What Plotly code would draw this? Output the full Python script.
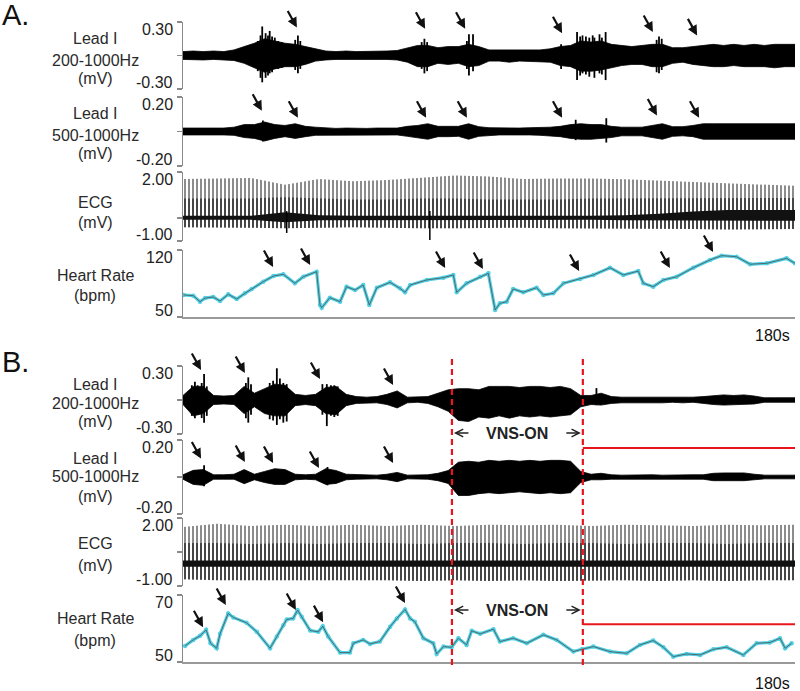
import plotly.graph_objects as go

# ======================= DATA =======================
# sampling times (s) of the envelope readings of the nerve recordings
t_env = [3 * i for i in range(61)]

# Panel A - Lead I 200-1000 Hz, burst body upper / lower envelope (mV)
a200_hi = [.035, .04, .035, .04, .035, .05, .08, .11, .15, .13,
           .11, .10, .08, .06, .04, .035, .04, .035, .035, .035,
           .04, .045, .07, .09, .09, .07, .08, .08, .10, .08,
           .05, .05, .05, .045, .05, .05, .06, .08, .09, .13,
           .12, .13, .10, .09, .08, .09, .10, .10, .07, .07,
           .08, .09, .10, .09, .10, .09, .10, .09, .10, .10, .10]
a200_lo = [-.035, -.035, -.04, -.035, -.04, -.045, -.07, -.11, -.15, -.12,
           -.10, -.10, -.08, -.05, -.04, -.035, -.035, -.035, -.03, -.035,
           -.035, -.04, -.06, -.10, -.10, -.07, -.08, -.07, -.10, -.09,
           -.05, -.05, -.06, -.05, -.05, -.055, -.06, -.09, -.10, -.14,
           -.14, -.13, -.11, -.09, -.08, -.08, -.10, -.10, -.07, -.06,
           -.08, -.09, -.10, -.10, -.09, -.10, -.10, -.10, -.11, -.10, -.10]
# isolated spikes inside the bursts (time s, top mV, bottom mV)
a200_spk_t = [22.0, 22.8, 23.3, 24.3, 25.0, 25.5, 26.2, 27.0, 28.0, 29.0, 33.0, 33.8, 34.5,
              70.2, 71.0, 71.8, 83.5, 84.1, 85.3, 111.2, 115.9, 116.8, 117.5, 118.5,
              119.5, 120.5, 121.0, 122.5, 123.2, 124.3, 139.3, 140.0, 140.8]
a200_spk_hi = [0.13, 0.18, 0.26, 0.20, 0.18, 0.22, 0.17, 0.16, 0.13, 0.12, 0.14, 0.18, 0.13,
               0.12, 0.15, 0.12, 0.13, 0.19, 0.19, 0.10, 0.21, 0.17, 0.18, 0.17,
               0.16, 0.18, 0.16, 0.19, 0.16, 0.21, 0.14, 0.17, 0.15]
a200_spk_lo = [-0.14, -0.20, -0.24, -0.20, -0.18, -0.16, -0.15, -0.12, -0.12, -0.11, -0.13, -0.16, -0.12,
               -0.12, -0.16, -0.14, -0.12, -0.18, -0.14, -0.12, -0.22, -0.18, -0.16, -0.17,
               -0.19, -0.14, -0.20, -0.16, -0.17, -0.22, -0.15, -0.16, -0.13]

# Panel A - Lead I 500-1000 Hz
a500_hi = [.02, .02, .02, .02, .02, .025, .04, .04, .055, .04,
           .035, .045, .03, .025, .02, .018, .02, .018, .018, .02,
           .02, .02, .03, .035, .045, .03, .03, .03, .045, .028,
           .022, .02, .022, .02, .022, .022, .025, .03, .04, .045,
           .04, .04, .03, .025, .025, .025, .035, .045, .028, .028,
           .035, .045, .045, .045, .045, .045, .045, .045, .045, .045, .045]
a500_lo = [-.02, -.02, -.02, -.022, -.02, -.022, -.035, -.04, -.055, -.04,
           -.03, -.04, -.03, -.022, -.02, -.018, -.018, -.02, -.018, -.018,
           -.02, -.02, -.028, -.035, -.045, -.03, -.03, -.028, -.045, -.028,
           -.022, -.02, -.02, -.022, -.02, -.022, -.025, -.03, -.04, -.045,
           -.045, -.04, -.035, -.025, -.025, -.025, -.035, -.045, -.028, -.025,
           -.03, -.045, -.045, -.045, -.045, -.045, -.045, -.045, -.045, -.045, -.045]
a500_spk_t = [23.5, 115.5, 124.5]
a500_spk_hi = [0.064, 0.068, 0.077]
a500_spk_lo = [-0.058, -0.05, -0.064]

# Panel B - Lead I 200-1000 Hz
b200_hi = [.04, .12, .12, .04, .035, .04, .12, .06, .10, .14,
           .13, .05, .04, .05, .11, .12, .05, .03, .025, .03,
           .05, .08, .025, .025, .03, .06, .09, .10, .10, .09,
           .12, .12, .12, .11, .12, .12, .11, .12, .10, .04,
           .04, .06, .03, .025, .025, .025, .025, .02, .025, .025,
           .025, .03, .04, .045, .04, .045, .035, .02, .02, .02, .02]
b200_lo = [-.04, -.14, -.12, -.04, -.035, -.04, -.12, -.06, -.12, -.14,
           -.14, -.05, -.04, -.05, -.12, -.13, -.05, -.03, -.03, -.025,
           -.04, -.07, -.025, -.02, -.03, -.06, -.10, -.18, -.19, -.15,
           -.16, -.14, -.16, -.14, -.15, -.14, -.15, -.14, -.13, -.06,
           -.04, -.045, -.03, -.025, -.025, -.02, -.025, -.025, -.02, -.025,
           -.02, -.03, -.04, -.045, -.045, -.04, -.035, -.02, -.02, -.02, -.02]
b200_spk_t = [2.6, 3.5, 4.3, 5.5, 6.2, 7.0, 18.5, 19.2, 20.0, 25.5, 26.5, 27.6, 28.5,
              29.5, 30.5, 41.0, 42.3, 43.5, 44.5, 45.5, 121.6]
b200_spk_hi = [0.13, 0.16, 0.13, 0.15, 0.23, 0.12, 0.15, 0.20, 0.14, 0.15, 0.17, 0.28, 0.19,
               0.15, 0.14, 0.14, 0.14, 0.13, 0.13, 0.12, 0.105]
b200_spk_lo = [-0.14, -0.16, -0.13, -0.16, -0.20, -0.14, -0.16, -0.20, -0.13, -0.17, -0.18, -0.22, -0.17,
               -0.20, -0.19, -0.13, -0.23, -0.14, -0.15, -0.14, -0.045]

# Panel B - Lead I 500-1000 Hz
b500_hi = [.012, .036, .04, .012, .012, .015, .04, .015, .03, .045,
           .04, .015, .012, .015, .045, .035, .015, .012, .01, .01,
           .015, .025, .01, .01, .012, .02, .035, .08, .085, .08,
           .09, .085, .09, .085, .09, .085, .09, .09, .085, .03,
           .015, .02, .012, .01, .012, .01, .012, .01, .012, .01,
           .012, .012, .02, .022, .02, .022, .015, .01, .01, .01, .01]
b500_lo = [-.012, -.04, -.045, -.012, -.012, -.012, -.036, -.015, -.03, -.04,
           -.04, -.015, -.012, -.015, -.04, -.035, -.015, -.012, -.01, -.01,
           -.015, -.025, -.01, -.01, -.012, -.02, -.035, -.10, -.10, -.09,
           -.085, -.09, -.085, -.08, -.085, -.09, -.085, -.09, -.085, -.03,
           -.015, -.015, -.012, -.01, -.01, -.012, -.01, -.01, -.012, -.01,
           -.012, -.012, -.02, -.022, -.02, -.02, -.015, -.01, -.01, -.01, -.01]
b500_spk_t = [6.2, 42.5]
b500_spk_hi = [0.063, 0.054]
b500_spk_lo = [-0.05, -0.045]

# ECG envelopes (mV) read every 10 s
t_ecg = [10 * i for i in range(19)]
ecg_a_peak = [1.70, 1.72, 1.74, 1.45, 1.70, 1.60, 1.65, 1.75, 1.85, 1.80,
              1.70, 1.72, 1.72, 1.68, 1.62, 1.55, 1.50, 1.45, 1.40]
ecg_a_trough = [-0.40, -0.40, -0.42, -0.45, -0.42, -0.40, -0.42, -0.45, -0.45, -0.45,
                -0.42, -0.45, -0.45, -0.45, -0.48, -0.48, -0.50, -0.50, -0.48]
ecg_a_dense = [0.85, 0.85, 0.85, 0.90, 0.85, 0.80, 0.80, 0.85, 0.85, 0.80,
               0.80, 0.80, 0.85, 0.85, 0.85, 0.87, 0.87, 0.87, 0.87]
ecg_a_core_hi = [0.10, 0.10, 0.10, 0.25, 0.12, 0.10, 0.10, 0.10, 0.08, 0.08,
                 0.08, 0.10, 0.10, 0.12, 0.18, 0.28, 0.35, 0.35, 0.35]
ecg_a_core_lo = [-0.08, -0.08, -0.08, -0.18, -0.10, -0.08, -0.08, -0.08, -0.08, -0.08,
                 -0.08, -0.08, -0.08, -0.10, -0.10, -0.12, -0.12, -0.12, -0.12]
ecg_a_art_t = [30.5, 72.6]        # isolated deflections
ecg_a_art_min = [-0.65, -0.96]

ecg_b_peak = [1.60, 1.75, 1.65, 1.70, 1.65, 1.70, 1.65, 1.70, 1.65, 1.70,
              1.68, 1.70, 1.65, 1.70, 1.68, 1.65, 1.70, 1.68, 1.70]
ecg_b_trough = [-0.70, -0.75, -0.78, -0.75, -0.78, -0.75, -0.75, -0.78, -0.75, -0.78,
                -0.75, -0.78, -0.78, -0.75, -0.78, -0.75, -0.78, -0.75, -0.75]
ecg_b_dense = [0.90, 0.90, 0.85, 0.90, 0.85, 0.90, 0.90, 0.85, 0.90, 0.90,
               0.85, 0.90, 0.90, 0.85, 0.90, 0.90, 0.85, 0.90, 0.90]
ecg_b_core_hi = [0.12, 0.12, 0.12, 0.12, 0.12, 0.12, 0.12, 0.12, 0.12, 0.12,
                 0.12, 0.12, 0.12, 0.12, 0.12, 0.12, 0.12, 0.12, 0.12]
ecg_b_core_lo = [-0.15, -0.15, -0.15, -0.15, -0.15, -0.15, -0.15, -0.15, -0.15, -0.15,
                 -0.15, -0.15, -0.15, -0.15, -0.15, -0.15, -0.15, -0.15, -0.15]

# Heart rate (bpm)
hr_a_t = [0.2, 3.0, 5.0, 6.5, 8.9, 10.9, 13.3, 15.8, 18.2, 20.2, 23.6, 26.6, 29.5,
          32.9, 35.4, 39.3, 40.3, 40.8, 43.2, 46.2, 48.1, 50.6, 53.0, 54.8, 57.0,
          60.9, 63.8, 65.3, 66.8, 71.7, 76.6, 79.5, 80.5, 83.4, 87.4, 89.8, 91.8,
          93.2, 95.2, 97.1, 100.1, 104.0, 106.0, 108.9, 111.9, 116.8, 120.7, 125.6,
          129.5, 133.9, 135.4, 138.3, 141.3, 145.2, 150.1, 155.0, 158.4, 162.8,
          166.8, 171.7, 177.5, 180.0]
hr_a = [73.0, 72.3, 66.0, 69.8, 70.9, 66.7, 73.7, 68.8, 74.7, 79.3, 86.9, 92.8, 94.6,
        85.2, 92.1, 97.4, 62.5, 59.7, 70.2, 66.0, 81.7, 78.2, 83.4, 62.5, 80.6,
        86.2, 80.0, 75.8, 83.4, 88.7, 91.1, 93.9, 75.8, 85.2, 92.1, 95.6, 57.3,
        64.3, 66.0, 79.3, 75.8, 80.6, 73.0, 74.7, 85.2, 89.7, 93.9, 101.5,
        93.9, 98.0, 85.2, 81.7, 88.7, 92.1, 101.5, 109.6, 114.1, 113.0,
        105.1, 106.1, 111.3, 106.1]
hr_b_t = [0.6, 3.0, 5.0, 6.8, 8.1, 9.9, 10.9, 13.3, 14.8, 18.7, 21.7, 25.6, 27.6,
          29.5, 30.5, 32.4, 33.7, 34.9, 37.4, 39.8, 41.1, 42.7, 46.2, 49.1, 50.1,
          53.0, 55.0, 57.9, 60.9, 62.9, 65.3, 66.8, 68.2, 70.7, 73.6, 74.6, 76.6,
          79.0, 81.0, 83.4, 84.9, 87.4, 91.3, 93.2, 97.1, 101.1, 106.0, 109.9,
          114.8, 117.3, 120.7, 125.6, 130.5, 134.4, 138.3, 141.3, 144.2, 148.1,
          152.1, 156.0, 159.9, 164.8, 168.7, 172.6, 175.6, 177.1, 179.0]
hr_b = [54.8, 56.6, 57.8, 59.6, 55.6, 54.1, 58.4, 64.5, 63.3, 61.7, 59.0, 54.1, 57.6,
        61.0, 62.7, 63.0, 65.5, 63.5, 59.4, 59.0, 60.7, 57.6, 52.8, 52.8, 55.6,
        56.6, 55.4, 56.1, 60.5, 63.0, 65.7, 63.0, 62.0, 57.1, 55.6, 52.4, 54.6,
        54.4, 57.1, 55.1, 59.3, 58.4, 59.8, 56.1, 57.1, 55.6, 58.1, 56.6,
        53.1, 53.8, 54.6, 53.1, 52.6, 55.1, 56.4, 54.4, 51.6, 52.4,
        52.1, 53.8, 54.4, 52.1, 55.6, 55.8, 57.1, 54.1, 55.6]

# arrows (time s, value at the arrow tip)
arr_a200_t = [22.6, 33.5, 71.2, 83.0, 111.5, 138.2, 151.2]
arr_a200_v = [0.33, 0.25, 0.24, 0.24, 0.20, 0.21, 0.18]
arr_a500_t = [23.2, 33.8, 71.5, 83.5, 111.5, 139.4, 151.8]
arr_a500_v = [0.12, 0.08, 0.08, 0.08, 0.08, 0.093, 0.08]
arr_ahr_t = [26.5, 37.4, 77.1, 88.2, 116.5, 143.2, 155.9]
arr_ahr_v = [102.2, 104.3, 101.2, 100.2, 98.1, 101.2, 117.9]
arr_b200_t = [5.3, 18.2, 26.5, 40.3, 61.8]
arr_b200_v = [0.264, 0.238, 0.334, 0.185, 0.132]
arr_b500_t = [5.3, 18.2, 26.5, 40.0, 61.8]
arr_b500_v = [0.10, 0.081, 0.076, 0.049, 0.076]
arr_bhr_t = [5.9, 12.6, 33.2, 41.2, 65.3]
arr_bhr_v = [60.4, 67.0, 65.5, 61.9, 67.6]

vns_on, vns_off = 79.1, 117.6
red_level_b500 = 0.157
red_level_bhr = 61.3

lbl_lead200 = ["Lead I", "200-1000Hz", "(mV)"]
lbl_lead500 = ["Lead I", "500-1000Hz", "(mV)"]
lbl_ecg = ["ECG", "(mV)"]
lbl_hr = ["Heart Rate", "(bpm)"]

# ============================ FIGURE ============================
W, H = 800, 691
X0, X1 = 183 / W, 795 / W
FONT = "Liberation Sans, Arial, sans-serif"
AXC = "#8a8a8a"
CYAN = "#4fd0e4"


def py(px):
    return 1 - px / H


# axis name -> (top px, bottom px, range, tick values, tick texts, x axis)
axes = {
    "y":  (22, 89, [-0.3, 0.3], [-0.3, 0, 0.3], ["-0.30", "0.30"], "x"),
    "y2": (97, 166, [-0.2, 0.2], [-0.2, 0, 0.2], ["-0.20", "0.20"], "x"),
    "y3": (172, 241, [-1, 2], [-1, 0, 2], ["-1.00", "2.00"], "x"),
    "y4": (250, 317, [50, 120], [50, 120], ["50", "120"], "x"),
    "y5": (366, 434, [-0.3, 0.3], [-0.3, 0, 0.3], ["-0.30", "0.30"], "x2"),
    "y6": (440, 514, [-0.2, 0.2], [-0.2, 0, 0.2], ["-0.20", "0.20"], "x2"),
    "y7": (518, 586, [-1, 2], [-1, 0.5, 2], ["-1.00", "2.00"], "x2"),
    "y8": (595, 662, [50, 70], [50, 70], ["50", "70"], "x2"),
}

fig = go.Figure()


def band(t, hi, lo, xa, ya, **kw):
    fig.add_trace(go.Scatter(x=list(t) + list(t)[::-1], y=list(hi) + list(lo)[::-1],
                             xaxis=xa, yaxis=ya, mode="lines", fill="toself",
                             hoverinfo="skip", showlegend=False, **kw))


def spikes(ts, his, los, xa, ya, width=1.8):
    xs, ys = [], []
    for t, h, l in zip(ts, his, los):
        xs += [t, t, None]
        ys += [l, h, None]
    fig.add_trace(go.Scatter(x=xs, y=ys, xaxis=xa, yaxis=ya, mode="lines",
                             line=dict(color="black", width=width),
                             hoverinfo="skip", showlegend=False))


# nerve recordings
for hi, lo, st, sh, sl, xa, ya in [
        (a200_hi, a200_lo, a200_spk_t, a200_spk_hi, a200_spk_lo, "x", "y"),
        (a500_hi, a500_lo, a500_spk_t, a500_spk_hi, a500_spk_lo, "x", "y2"),
        (b200_hi, b200_lo, b200_spk_t, b200_spk_hi, b200_spk_lo, "x2", "y5"),
        (b500_hi, b500_lo, b500_spk_t, b500_spk_hi, b500_spk_lo, "x2", "y6")]:
    band(t_env, hi, lo, xa, ya, fillcolor="black", line=dict(color="black", width=0.8))
    spikes(st, sh, sl, xa, ya)

# ECG
for pk, tr, dn, chi, clo, xa, ya in [
        (ecg_a_peak, ecg_a_trough, ecg_a_dense, ecg_a_core_hi, ecg_a_core_lo, "x", "y3"),
        (ecg_b_peak, ecg_b_trough, ecg_b_dense, ecg_b_core_hi, ecg_b_core_lo, "x2", "y7")]:
    band(t_ecg, pk, tr, xa, ya, fillcolor="white", line=dict(width=0),
         fillpattern=dict(shape="|", size=4, solidity=0.45, fgcolor="#000000",
                          bgcolor="white"))
    band(t_ecg, dn, tr, xa, ya, fillcolor="white", line=dict(width=0),
         fillpattern=dict(shape="|", size=4, solidity=0.5, fgcolor="#000000",
                          bgcolor="rgba(255,255,255,0)"))
    band(t_ecg, chi, clo, xa, ya, fillcolor="#111111", line=dict(width=0))

spikes(ecg_a_art_t, [0.3] * len(ecg_a_art_t), ecg_a_art_min, "x", "y3", width=1.5)

# heart rate
for tt, hh, xa, ya in [(hr_a_t, hr_a, "x", "y4"), (hr_b_t, hr_b, "x2", "y8")]:
    fig.add_trace(go.Scatter(x=tt, y=hh, xaxis=xa, yaxis=ya, mode="lines+markers",
                             line=dict(color=CYAN, width=3.2), marker=dict(color=CYAN, size=4.5),
                             showlegend=False, hoverinfo="skip"))
    fig.add_trace(go.Scatter(x=tt, y=hh, xaxis=xa, yaxis=ya, mode="lines",
                             line=dict(color="#505050", width=0.8),
                             showlegend=False, hoverinfo="skip"))

layout = dict(width=W, height=H, margin=dict(l=0, r=0, t=0, b=0),
              paper_bgcolor="white", plot_bgcolor="white", showlegend=False,
              font=dict(family=FONT, color="#222"))
for xa, anchor in [("xaxis", "y4"), ("xaxis2", "y8")]:
    layout[xa] = dict(domain=[X0, X1], range=[0, 180], anchor=anchor, showline=True,
                      linecolor="#9a9a9a", linewidth=1.5, showticklabels=False,
                      ticks="", showgrid=False, zeroline=False, fixedrange=True)
annotations = []
for name, (top, bot, rng, tv, tt, xa) in axes.items():
    key = "yaxis" if name == "y" else "yaxis" + name[1:]
    layout[key] = dict(domain=[py(bot), py(top)], range=rng, anchor=xa, showline=True,
                       linecolor=AXC, linewidth=1.5, ticks="outside", ticklen=5,
                       tickwidth=1.5, tickcolor=AXC, tickvals=tv, showticklabels=False,
                       showgrid=False, zeroline=False, fixedrange=True)
    annotations.append(dict(xref="paper", yref=name, x=X0, y=rng[0], xanchor="right",
                            yanchor="bottom", xshift=-8, yshift=-4, text=tt[0],
                            showarrow=False, font=dict(size=16, color="#222")))
    annotations.append(dict(xref="paper", yref=name, x=X0, y=rng[1], xanchor="right",
                            yanchor="top", xshift=-8, yshift=3, text=tt[1],
                            showarrow=False, font=dict(size=16, color="#222")))

# row labels (text, centre y in px)
row_labels = [(lbl_lead200, [39, 60, 79]), (lbl_lead500, [114, 135, 154]),
              (lbl_ecg, [202, 222]), (lbl_hr, [275, 295]),
              (lbl_lead200, [384, 403, 421]), (lbl_lead500, [458, 477, 496]),
              (lbl_ecg, [543, 565]), (lbl_hr, [618, 640])]
for texts, ys in row_labels:
    for txt, yy in zip(texts, ys):
        annotations.append(dict(xref="paper", yref="paper", x=95 / W, y=py(yy),
                                xanchor="center", yanchor="middle", text=txt,
                                showarrow=False, font=dict(size=16, color="#2a2a2a")))

for txt, yy in [("A.", 15), ("B.", 362)]:
    annotations.append(dict(xref="paper", yref="paper", x=0, y=py(yy), xanchor="left",
                            yanchor="middle", text=txt, showarrow=False,
                            font=dict(size=29, color="#111")))
for yy in [335, 683]:
    annotations.append(dict(xref="paper", yref="paper", x=772 / W, y=py(yy),
                            xanchor="center", yanchor="middle", text="180s",
                            showarrow=False, font=dict(size=16, color="#111")))

# event arrows
for ts, vs, xa, ya in [(arr_a200_t, arr_a200_v, "x", "y"), (arr_a500_t, arr_a500_v, "x", "y2"),
                       (arr_ahr_t, arr_ahr_v, "x", "y4"), (arr_b200_t, arr_b200_v, "x2", "y5"),
                       (arr_b500_t, arr_b500_v, "x2", "y6"), (arr_bhr_t, arr_bhr_v, "x2", "y8")]:
    for t, v in zip(ts, vs):
        annotations.append(dict(xref=xa, yref=ya, x=t, y=v, ax=-10, ay=-18, text="",
                                showarrow=True, arrowhead=2, arrowsize=0.9,
                                arrowwidth=2.2, arrowcolor="#111"))

# VNS-ON labels
for yy in [433, 610]:
    annotations.append(dict(xref="x2", yref="paper", x=(vns_on + vns_off) / 2, y=py(yy),
                            text="<b>VNS-ON</b>", showarrow=False, xanchor="center",
                            yanchor="middle", font=dict(size=16, color="#222")))
    annotations.append(dict(xref="x2", yref="paper", x=vns_on, y=py(yy), ax=18, ay=0,
                            text="", showarrow=True, arrowhead=5, arrowsize=1.0,
                            arrowwidth=1.5, arrowcolor="#222", standoff=2))
    annotations.append(dict(xref="x2", yref="paper", x=vns_off, y=py(yy), ax=-18, ay=0,
                            text="", showarrow=True, arrowhead=5, arrowsize=1.0,
                            arrowwidth=1.5, arrowcolor="#222", standoff=2))
layout["annotations"] = annotations

RED = "#e8161c"
shapes = []
for t in [vns_on, vns_off]:
    shapes.append(dict(type="line", xref="x2", yref="paper", x0=t, x1=t,
                       y0=py(665), y1=py(358), line=dict(color=RED, width=2.2, dash="6px,4px")))
shapes.append(dict(type="line", xref="x2", yref="y6", x0=vns_off, x1=180,
                   y0=red_level_b500, y1=red_level_b500, line=dict(color=RED, width=2)))
shapes.append(dict(type="line", xref="x2", yref="y8", x0=vns_off, x1=180,
                   y0=red_level_bhr, y1=red_level_bhr, line=dict(color=RED, width=2)))
layout["shapes"] = shapes

fig.update_layout(**layout)
fig.write_html("out.html", config={"displayModeBar": False, "staticPlot": True},
               post_script="document.body.style.margin='0px';document.body.style.padding='0px';")
